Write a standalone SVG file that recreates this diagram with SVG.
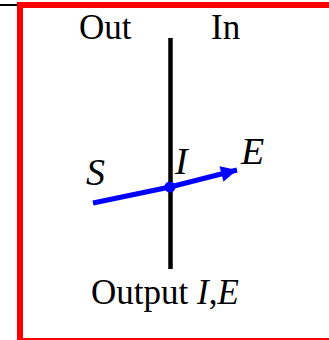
<svg xmlns="http://www.w3.org/2000/svg" width="329" height="340" viewBox="0 0 329 340">
<style>
text{font-family:"Liberation Serif","Times New Roman",serif;font-size:35px;fill:#000}
.it{font-style:italic}
.big{font-size:38px}
</style>
<defs>
<marker id="ah" viewBox="0 0 10 10" refX="10" refY="5" markerWidth="3.6" markerHeight="3.2" markerUnits="strokeWidth" orient="auto">
<path d="M0,0 L10,5 L0,10 Z" fill="#0000ff"/>
</marker>
</defs>
<line x1="0" y1="5" x2="18" y2="5" stroke="#000" stroke-width="2"/>
<rect x="20" y="5" width="330" height="336" fill="#fff" stroke="#ff0000" stroke-width="6"/>
<g id="wall">
<line x1="170.5" y1="38" x2="170.5" y2="269" stroke="#000" stroke-width="4.5"/>
</g>
<g id="labels">
<text x="79" y="39">Out</text>
<text x="211" y="39">In</text>
<text x="91" y="304">Output <tspan class="it">I</tspan>,<tspan class="it">E</tspan></text>
<text class="it big" x="86" y="185">S</text>
<text class="it big" x="175" y="174">I</text>
<text class="it big" x="241" y="164">E</text>
</g>
<g id="connectors">
<polyline points="93,203 170,187 237,170" fill="none" stroke="#0000ff" stroke-width="5" marker-end="url(#ah)"/>
<circle cx="170" cy="187" r="5.5" fill="#0000ff"/>
</g>
</svg>
